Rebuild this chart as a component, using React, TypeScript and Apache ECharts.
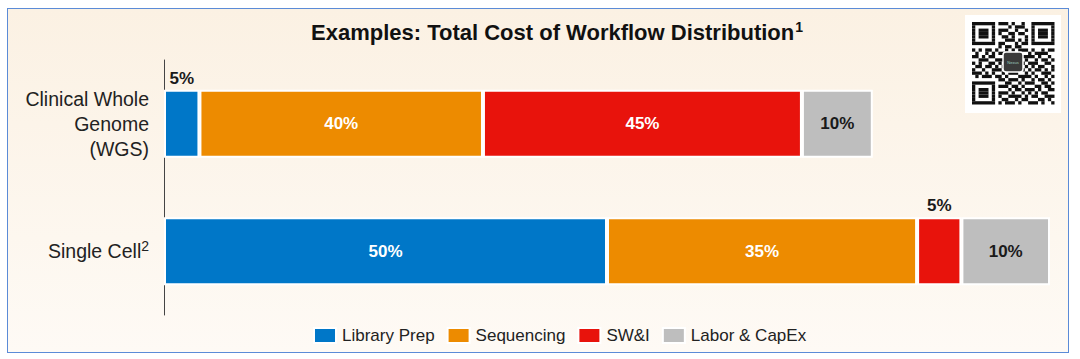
import React, { useEffect, useRef } from "react";
import * as echarts from "echarts";

const categories = ["Clinical Whole\nGenome\n(WGS)", "Single Cell"];
const categorySup = ["", "2"];
const seriesNames = ["Library Prep", "Sequencing", "SW&I", "Labor & CapEx"];
const colors = ["#0077c8", "#ed8b00", "#e8130c", "#bebebe"];
// share of each cost component, per workflow (labels)
const pctWGS = [5, 40, 45, 10];
const pctSingleCell = [50, 35, 5, 10];
// relative total bar length of each workflow (longest = 100)
const barTotals = [80, 100];
// labels placed above the bar (small segments)
const labelAbove = [
  [true, false, false, false],
  [false, false, true, false],
];

const qrRows = [
  "1011010011101001011010110",
  "0110101100010111010011011",
  "1101001011100100111010100",
  "0010111010011011000101101",
  "1110010101101000110111010",
  "0101101100111010101000111",
  "1001010111000101101101001",
  "0111001010110110010110110",
  "1010110100101011101001011",
  "0100101011110010010111100",
  "1101011000101101111010010",
  "0011100111010010100101101",
  "1010011010111101011100110",
  "0110110101000110101011001",
  "1001001110110011010110101",
  "1110101001011100101001110",
  "0101110110100011110100101",
  "1010001011011101001011010",
  "0111010100110010111001101",
  "1100101011101101000110110",
  "0011011100010110111010011",
  "1101100011101001010101100",
  "0100111010011110101100111",
  "1011001101100101100011010",
  "0110110010111010011101001",
];

const FONT = "Liberation Sans, Arial, sans-serif";

function buildQr() {
  const n = 25;
  const grid: number[][] = [];
  for (let r = 0; r < n; r++) {
    grid.push([]);
    for (let c = 0; c < n; c++) grid[r].push(qrRows[r].charAt(c) === "1" ? 1 : 0);
  }
  const finder = (r0: number, c0: number) => {
    for (let r = -1; r <= 7; r++)
      for (let c = -1; c <= 7; c++) {
        const rr = r0 + r, cc = c0 + c;
        if (rr < 0 || cc < 0 || rr >= n || cc >= n) continue;
        let v = 0;
        if (r >= 0 && r <= 6 && c >= 0 && c <= 6) {
          const edge = r === 0 || r === 6 || c === 0 || c === 6;
          const core = r >= 2 && r <= 4 && c >= 2 && c <= 4;
          v = edge || core ? 1 : 0;
        }
        grid[rr][cc] = v;
      }
  };
  finder(0, 0);
  finder(0, 18);
  finder(18, 0);
  const x0 = 972, y0 = 22, cell = 3.3;
  const children: any[] = [
    { type: "rect", shape: { x: 965, y: 15, width: 96, height: 98 }, style: { fill: "#ffffff" } },
  ];
  for (let r = 0; r < n; r++) {
    let c = 0;
    while (c < n) {
      if (grid[r][c]) {
        let e = c;
        while (e < n && grid[r][e]) e++;
        children.push({
          type: "rect",
          shape: { x: x0 + c * cell, y: y0 + r * cell, width: (e - c) * cell, height: cell },
          style: { fill: "#111111" },
        });
        c = e;
      } else c++;
    }
  }
  children.push({
    type: "rect",
    shape: { x: 1003, y: 52, width: 20, height: 20, r: 3 },
    style: { fill: "#3a3a3a", stroke: "#ffffff", lineWidth: 1.5 },
  });
  children.push({
    type: "text",
    style: { x: 1013, y: 62, text: "Nexus", fill: "#9fd3c0", fontSize: 4, align: "center", verticalAlign: "middle" },
  });
  return { type: "group", children };
}

export default function App() {
  const ref = useRef<HTMLDivElement>(null);
  useEffect(() => {
    document.body.style.margin = "0";
    if (!ref.current) return;
    const chart = echarts.init(ref.current, null, { renderer: "svg" });
    const pcts = [pctWGS, pctSingleCell];
    const series = seriesNames.map((name, i) => ({
      name,
      type: "bar",
      stack: "total",
      barWidth: 68,
      itemStyle: { color: colors[i], borderColor: "#ffffff", borderWidth: 2 },
      data: categories.map((_, ci) => {
        const above = labelAbove[ci][i];
        return {
          value: (pcts[ci][i] * barTotals[ci]) / 100,
          label: {
            show: true,
            position: above ? "top" : "inside",
            distance: 3,
            formatter: pcts[ci][i] + "%",
            color: above || i === 3 ? "#1a1a1a" : "#ffffff",
            fontWeight: "bold",
            fontSize: 17,
            fontFamily: FONT,
          },
        };
      }),
    }));
    chart.setOption({
      animation: false,
      backgroundColor: "transparent",
      textStyle: { fontFamily: FONT },
      graphic: [
        {
          type: "text",
          x: 557,
          y: 32,
          style: {
            text: "{t|Examples: Total Cost of Workflow Distribution}{s|1}",
            align: "center",
            verticalAlign: "middle",
            rich: {
              t: { fontSize: 22, fontWeight: "bold", fill: "#111111", fontFamily: FONT },
              s: { fontSize: 14, fontWeight: "bold", fill: "#111111", padding: [0, 0, 10, 1], fontFamily: FONT },
            },
          },
        },
        buildQr(),
      ],
      grid: { left: 164, right: 30, top: 60, bottom: 44 },
      xAxis: { type: "value", min: 0, max: 100, show: false },
      yAxis: {
        type: "category",
        data: categories,
        inverse: true,
        axisLine: { show: true, lineStyle: { color: "#444444", width: 1 } },
        axisTick: { show: false },
        axisLabel: {
          margin: 15,
          formatter: (v: string, idx: number) =>
            categorySup[idx] ? "{a|" + v + "}{s|" + categorySup[idx] + "}" : "{a|" + v.split("\n").join("}\n{a|") + "}",
          rich: {
            a: { fontSize: 19.5, color: "#222222", lineHeight: 25, fontFamily: FONT },
            s: { fontSize: 14, color: "#222222", padding: [0, 0, 10, 0], fontFamily: FONT },
          },
        },
      },
      legend: {
        data: seriesNames,
        left: 313,
        top: 327,
        padding: 0,
        itemWidth: 22,
        itemHeight: 15,
        itemGap: 12,
        icon: "rect",
        textStyle: { fontSize: 17, color: "#222222", fontFamily: FONT, padding: [0, 0, 0, 1] },
      },
      series,
    });
    return () => chart.dispose();
  }, []);
  return (
    <div style={{ position: "relative", width: 1080, height: 359, background: "#ffffff" }}>
      <div
        style={{
          position: "absolute",
          left: 7,
          top: 8,
          width: 1060,
          height: 343,
          border: "1.5px solid #5b8bd7",
          background: "linear-gradient(to bottom, #fbf1e3, #fefaf5)",
        }}
      />
      <div ref={ref} style={{ position: "absolute", left: 0, top: 0, width: 1080, height: 359 }} />
    </div>
  );
}
